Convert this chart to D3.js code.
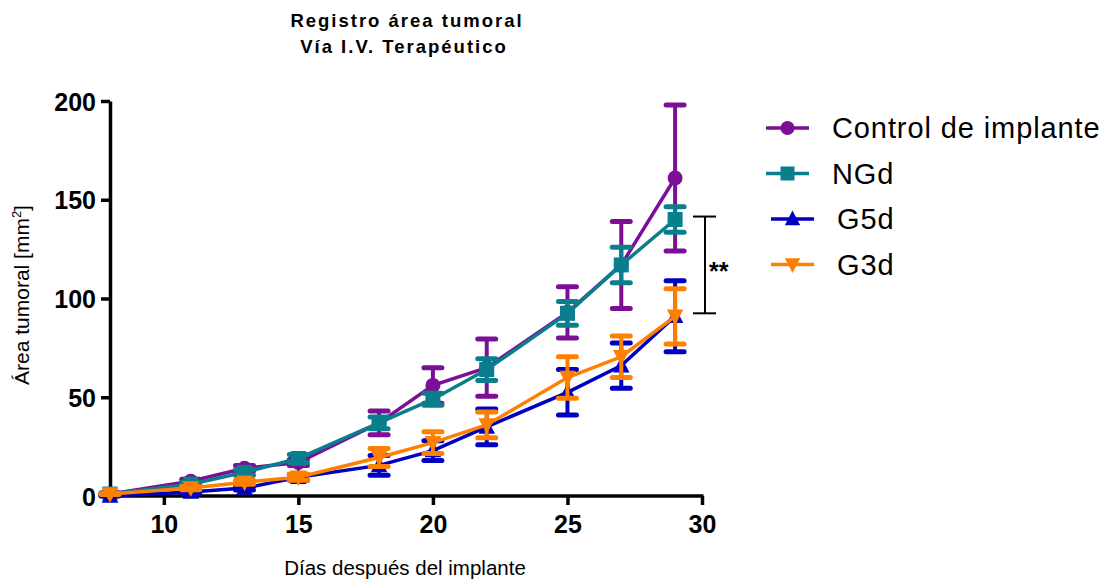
<!DOCTYPE html>
<html lang="es">
<head>
  <meta charset="utf-8">
  <title>Registro área tumoral</title>
  <script src="https://d3js.org/d3.v7.min.js"></script>
  <style>
    body { margin: 0; background: #fff; font-family: Arial, 'Liberation Sans', sans-serif; }
    .tick text { font-weight: bold; font-size: 25px; }
  </style>
</head>
<body>
  <div id="chart"></div>
  <script>
    // Data
    var days = [8, 11, 13, 15, 18, 20, 22, 25, 27, 29];
    var seriesNames = ["Control de implante", "NGd", "G5d", "G3d"];
    var controlMean = [1, 7.5, 14, 17, 37, 56, 65, 93, 117, 161];
    var controlErr  = [0.5, 1, 1.5, 1.5, 6, 9, 14.5, 13, 22, 37];
    var ngdMean = [1, 6, 12, 19, 37, 49, 64, 92.5, 117, 140];
    var ngdErr  = [0.5, 1, 1.5, 2, 3, 3, 5.5, 6, 9, 6.5];
    var g5dMean = [0, 2, 4, 9.5, 15.5, 23, 35, 52.5, 66, 91];
    var g5dErr  = [0.3, 0.8, 1, 1.5, 5, 5, 9, 11.5, 11.5, 18];
    var g3dMean = [1, 4, 7, 9.5, 19.5, 27, 36, 60, 70.5, 91];
    var g3dErr  = [0.3, 0.8, 1, 1.5, 4.5, 5.5, 6.5, 10.5, 10.5, 14];
    var xTicks = [10, 15, 20, 25, 30];
    var yTicks = [0, 50, 100, 150, 200];
    var sigBracket = [92.5, 141.5];

    var colors = ["#7b1096", "#0b7e8e", "#0000c0", "#ff8000"];
    var symbols = ["circle", "square", "triUp", "triDown"];

    var series = [
      { mean: controlMean, err: controlErr },
      { mean: ngdMean, err: ngdErr },
      { mean: g5dMean, err: g5dErr },
      { mean: g3dMean, err: g3dErr }
    ].map(function(s, i) {
      return {
        name: seriesNames[i], color: colors[i], symbol: symbols[i],
        points: days.map(function(d, j) { return { x: d, y: s.mean[j], e: s.err[j] }; })
      };
    });

    var W = 1112, H = 580;
    var svg = d3.select("#chart").append("svg")
      .attr("width", W).attr("height", H);

    var x = d3.scaleLinear().domain([8, 30]).range([110, 702]);
    var y = d3.scaleLinear().domain([0, 200]).range([496, 101]);

    // title
    var title = svg.append("text")
      .attr("text-anchor", "middle")
      .attr("font-weight", "bold")
      .attr("font-size", "18.5px")
      .attr("letter-spacing", "2px");
    title.append("tspan").attr("x", 407).attr("y", 27).text("Registro área tumoral");
    title.append("tspan").attr("x", 404).attr("y", 53).text("Vía I.V. Terapéutico");

    // axes
    var xAxis = svg.append("g")
      .attr("transform", "translate(0," + y(0) + ")")
      .call(d3.axisBottom(x).tickValues(xTicks).tickSize(9).tickPadding(10).tickSizeOuter(0));
    var yAxis = svg.append("g")
      .attr("transform", "translate(" + x(8) + ",0)")
      .call(d3.axisLeft(y).tickValues(yTicks).tickSize(9).tickPadding(5).tickSizeOuter(0));
    [xAxis, yAxis].forEach(function(a) {
      a.select(".domain").attr("stroke", "#000").attr("stroke-width", 3.5);
      a.selectAll(".tick line").attr("stroke", "#000").attr("stroke-width", 3.5);
      a.selectAll(".tick text").attr("fill", "#000");
    });
    xAxis.select(".domain").attr("d", "M" + (x(8) - 1.5) + ",0H" + (x(30) + 1.5));
    yAxis.selectAll(".tick text").attr("dy", "0.36em");

    // axis labels
    svg.append("text")
      .attr("x", 405).attr("y", 575)
      .attr("text-anchor", "middle")
      .attr("font-size", "20.5px")
      .text("Días después del implante");
    var yl = svg.append("text")
      .attr("transform", "translate(29,295) rotate(-90)")
      .attr("text-anchor", "middle")
      .attr("font-size", "21px");
    yl.append("tspan").text("Área tumoral [mm");
    yl.append("tspan").attr("font-size", "13px").attr("dy", "-8").text("2");
    yl.append("tspan").attr("dy", "8").text("]");

    function drawSymbol(g, type, cx, cy, color, s) {
      if (type === "circle") {
        g.append("circle").attr("cx", cx).attr("cy", cy).attr("r", s * 0.5).attr("fill", color);
      } else if (type === "square") {
        g.append("rect").attr("x", cx - s / 2).attr("y", cy - s / 2)
          .attr("width", s).attr("height", s).attr("fill", color);
      } else if (type === "triUp") {
        g.append("path").attr("fill", color)
          .attr("d", "M" + cx + "," + (cy - s * 0.6) + "L" + (cx + s * 0.55) + "," + (cy + s * 0.45) +
                "L" + (cx - s * 0.55) + "," + (cy + s * 0.45) + "Z");
      } else {
        g.append("path").attr("fill", color)
          .attr("d", "M" + cx + "," + (cy + s * 0.6) + "L" + (cx + s * 0.55) + "," + (cy - s * 0.45) +
                "L" + (cx - s * 0.55) + "," + (cy - s * 0.45) + "Z");
      }
    }

    var line = d3.line().x(function(d) { return x(d.x); }).y(function(d) { return y(d.y); });

    series.forEach(function(s) {
      var g = svg.append("g");
      // error bars
      s.points.forEach(function(p) {
        var cx = x(p.x), top = y(p.y + p.e), bot = y(Math.max(0, p.y - p.e));
        g.append("line").attr("x1", cx).attr("x2", cx).attr("y1", top).attr("y2", bot)
          .attr("stroke", s.color).attr("stroke-width", 4);
        [top, bot].forEach(function(yy) {
          g.append("line").attr("x1", cx - 9).attr("x2", cx + 9).attr("y1", yy).attr("y2", yy)
            .attr("stroke", s.color).attr("stroke-width", 5).attr("stroke-linecap", "round");
        });
      });
      g.append("path").datum(s.points).attr("d", line)
        .attr("fill", "none").attr("stroke", s.color).attr("stroke-width", 3.5);
      s.points.forEach(function(p) {
        drawSymbol(g, s.symbol, x(p.x), y(p.y), s.color, 15);
      });
    });

    // significance bracket
    var bx = 705;
    var br = svg.append("g").attr("stroke", "#000").attr("stroke-width", 2);
    br.append("line").attr("x1", bx).attr("x2", bx).attr("y1", y(sigBracket[1])).attr("y2", y(sigBracket[0]));
    br.append("line").attr("x1", bx - 12).attr("x2", bx + 11).attr("y1", y(sigBracket[1])).attr("y2", y(sigBracket[1]));
    br.append("line").attr("x1", bx - 12).attr("x2", bx + 11).attr("y1", y(sigBracket[0])).attr("y2", y(sigBracket[0]));
    svg.append("text").attr("x", 709).attr("y", y((sigBracket[0] + sigBracket[1]) / 2) + 15)
      .attr("font-size", "25px").attr("font-weight", "bold").text("**");

    // legend
    var legend = svg.append("g");
    series.forEach(function(s, i) {
      var ly = 128 + i * 45.5;
      var lx0 = i < 2 ? 766 : 771;
      legend.append("line").attr("x1", lx0).attr("x2", lx0 + 43).attr("y1", ly).attr("y2", ly)
        .attr("stroke", s.color).attr("stroke-width", 3.5);
      drawSymbol(legend, s.symbol, lx0 + 21.5, ly, s.color, 14);
      legend.append("text").attr("x", i < 2 ? 832 : 837).attr("y", ly + 10)
        .attr("font-size", "29px").attr("letter-spacing", "0.9px").text(s.name);
    });
  </script>
</body>
</html>
